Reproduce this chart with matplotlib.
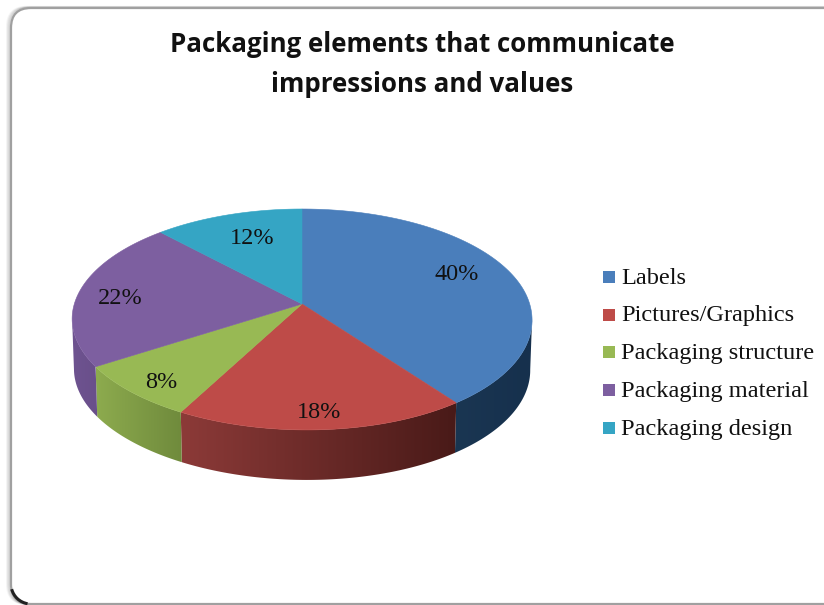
import numpy as np
import matplotlib
matplotlib.use("Agg")
import matplotlib.pyplot as plt
from matplotlib.colors import to_rgb
from matplotlib.patches import Polygon, FancyBboxPatch, Rectangle, Arc

title_lines = ["Packaging elements that communicate", "impressions and values"]
categories = ["Labels", "Pictures/Graphics", "Packaging structure", "Packaging material", "Packaging design"]
values = [40, 18, 8, 22, 12]
top_colors = ["#4a7ebb", "#be4b48", "#98b954", "#7d5fa0", "#35a5c4"]
side_left = ["#1a3652", "#8c3a38", "#8dab4e", "#6e5390", "#2a8aa5"]
side_right = ["#16304d", "#491a18", "#6f8a3c", "#694f8a", "#23758c"]
label_pos = [(457, 272), (319, 409), (161, 379), (120, 296), (252, 236)]
legend_y = [276, 314, 351, 389, 427]

fig = plt.figure(figsize=(8.24, 6.05), dpi=100)
ax = fig.add_axes([0, 0, 1, 1])

# soft frame shadow and frame
for i, a in enumerate([0.04, 0.06, 0.08, 0.10]):
    off = 4 - i
    ax.add_patch(FancyBboxPatch((11 - off, 8 - off * 0.3), 860, 596 + off * 0.3,
                                boxstyle="round,pad=0,rounding_size=20", fc="none",
                                ec=(0, 0, 0, a), lw=1.5, zorder=1))
ax.add_patch(FancyBboxPatch((11, 8), 860, 596, boxstyle="round,pad=0,rounding_size=20",
                            fc="white", ec="#a0a0a0", lw=1.6, zorder=2))
ax.add_patch(Arc((31, 584), 40, 40, theta1=100, theta2=165, ec="#222222", lw=2.2, zorder=2.5))

# perspective projection of the pie disc
CX, CY, RX, RY, K = 302, 304, 227.7, 108.3, 0.14
DEPTH = 50


def project(theta):
    s, c = np.sin(theta), np.cos(theta)
    d = 1 + K * c
    return CX + RX * s / d + 5 * np.where(c < 0, c * c, 0), CY - RY * c / d


edges = np.cumsum([0] + values) / sum(values) * 2 * np.pi
front0 = np.arccos(-K)
front1 = 2 * np.pi - front0

# sides, with a left-to-right gradient across each visible band
for i in range(len(values)):
    a, b = max(edges[i], front0), min(edges[i + 1], front1)
    if b <= a:
        continue
    th = np.linspace(a, b, 160)
    x, y = project(th)
    xb = CX + (x - CX) * 0.992
    yb = y + DEPTH
    pts = list(zip(x, y)) + list(zip(xb[::-1], yb[::-1]))
    poly = Polygon(pts, closed=True, fc="none", ec="none", transform=ax.transData)
    ax.add_patch(poly)
    grad = np.linspace(np.array(to_rgb(side_left[i])), np.array(to_rgb(side_right[i])), 256)[None, :, :]
    im = ax.imshow(grad, extent=(min(x.min(), xb.min()), max(x.max(), xb.max()), max(y.max(), yb.max()), min(y.min(), yb.min())),
                   aspect="auto", interpolation="bilinear", zorder=3)
    im.set_clip_path(poly)

ax.set_xlim(0, 824)
ax.set_ylim(605, 0)
ax.axis("off")

# top faces
for i in range(len(values)):
    th = np.linspace(edges[i], edges[i + 1], 120)
    x, y = project(th)
    pts = [(CX, CY)] + list(zip(x, y))
    ax.add_patch(Polygon(pts, closed=True, fc=top_colors[i], ec=top_colors[i], lw=0.4, zorder=4))

serif = "Liberation Serif"
for (lx, ly), v in zip(label_pos, values):
    ax.text(lx, ly + 3, f"{v}%", ha="center", va="center", family=serif, fontsize=17.5, color="#111111", zorder=5)

for name, col, ly in zip(categories, top_colors, legend_y):
    ax.add_patch(Rectangle((603, ly - 5), 12, 12, fc=col, ec="none", zorder=5))
    ax.text(621, ly + 2, name, ha="left", va="center", family=serif, fontsize=17.6, color="#111111", zorder=5)

for ln, ly in zip(title_lines, [41, 81]):
    ax.text(422, ly + 3, ln, ha="center", va="center", family="Open Sans", fontweight="bold",
            fontsize=18.6, color="#111111", zorder=5)

fig.savefig("out.png", dpi=100)
